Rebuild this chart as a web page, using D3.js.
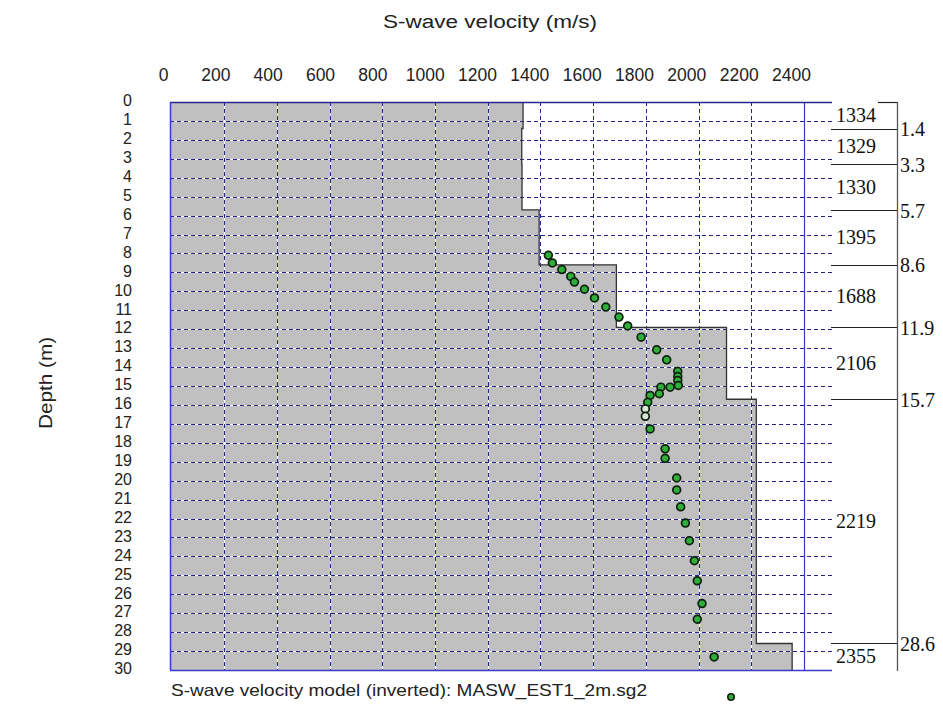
<!DOCTYPE html>
<html><head><meta charset="utf-8">
<script src="https://cdn.jsdelivr.net/npm/d3@7"></script>
<style>
html,body{margin:0;padding:0;background:#fff;}
svg{display:block;}
</style></head>
<body>
<svg id="chart" width="943" height="708"></svg>
<script>
// ---- data ----
const xTicks = [0,200,400,600,800,1000,1200,1400,1600,1800,2000,2200,2400];
const depthTicks = d3.range(0,31);
const layerTops = [0,1.4,3.3,5.7,8.6,11.9,15.7,28.6];
const layerBottoms = [1.4,3.3,5.7,8.6,11.9,15.7,28.6,30];
const layerVs = [1334,1329,1330,1395,1688,2106,2219,2355];
const boundaryLabels = ["1.4","3.3","5.7","8.6","11.9","15.7","28.6"];
const boundaryDepths = [1.4,3.3,5.7,8.6,11.9,15.7,28.6];
const pointVs = [1430,1445,1481,1515,1529,1567,1605,1648,1698,1731,1782,1841,1879,1921,1921,1921,1923,1892,1857,1851,1816,1807,1798,1798,1816,1873,1873,1917,1917,1932,1950,1965,1984,1995,2013,1995,2059];
const pointDepths = [8.10,8.50,8.85,9.21,9.51,9.89,10.35,10.83,11.36,11.83,12.42,13.09,13.62,14.23,14.50,14.71,14.97,15.06,15.06,15.41,15.50,15.86,16.21,16.60,17.27,18.32,18.82,19.86,20.49,21.38,22.24,23.17,24.23,25.29,26.49,27.32,29.31];
const openPoints = [22,23];
const title = "S-wave velocity (m/s)";
const yTitle = "Depth (m)";
const legendText = "S-wave velocity model (inverted): MASW_EST1_2m.sg2";

// ---- layout ----
const svg = d3.select("#chart");
const x = d3.scaleLinear().domain([0,2400]).range([171.5,804]);
const xLab = d3.scaleLinear().domain([0,2400]).range([163,791]);
const y = d3.scaleLinear().domain([0,30]).range([102,670]);
const plotL = 170, plotR = 832;
const gray = "#c0c0c0", navy = "#25258f", blue = "#3a3ac8";
const sans = "Arial, 'Liberation Sans', sans-serif";
const serif = "'Times New Roman', 'Liberation Serif', serif";

// gray step area as a single polygon
const layers = layerVs.map((v,i)=>({v, top:layerTops[i], bot:layerBottoms[i]}));
const stepPts = [];
layers.forEach(l=>{ stepPts.push([x(l.v), y(l.top)]); stepPts.push([x(l.v), y(l.bot)]); });
const polyPts = [[plotL, y(0)], ...stepPts, [plotL, y(30)]];
svg.append("path").attr("d", d3.line()(polyPts) + "Z").attr("fill", gray);

// gridlines (white base + navy dashes)
const gridG = svg.append("g");
const hDepths = depthTicks.filter(d=>d>0 && d<30);
[["#ffffff",null],[navy,"4,3"]].forEach(([c,dash])=>{
  gridG.append("g").selectAll("line").data(hDepths).join("line")
    .attr("x1", plotL).attr("x2", plotR)
    .attr("y1", d=>Math.round(y(d))+0.5).attr("y2", d=>Math.round(y(d))+0.5)
    .attr("stroke", c).attr("stroke-width",1).attr("stroke-dasharray", dash);
  gridG.append("g").selectAll("line").data(xTicks.filter(v=>v>0 && v<2400)).join("line")
    .attr("x1", d=>Math.round(x(d))+0.5).attr("x2", d=>Math.round(x(d))+0.5)
    .attr("y1", y(0)).attr("y2", y(30))
    .attr("stroke", c).attr("stroke-width",1).attr("stroke-dasharray", dash);
});
// solid 2400 line
svg.append("line").attr("x1", Math.round(x(2400))+0.5).attr("x2", Math.round(x(2400))+0.5)
  .attr("y1", y(0)).attr("y2", y(30)).attr("stroke", blue).attr("stroke-width",1.2);

// step outline
svg.append("path").attr("d", d3.line()(stepPts)).attr("fill","none")
  .attr("stroke","#333").attr("stroke-width",1.3);

// borders
svg.append("line").attr("x1",plotL).attr("x2",plotR).attr("y1",y(0)+0.5).attr("y2",y(0)+0.5).attr("stroke",navy).attr("stroke-width",1.3);
svg.append("line").attr("x1",plotL).attr("x2",plotR).attr("y1",y(30)+0.5).attr("y2",y(30)+0.5).attr("stroke",blue).attr("stroke-width",1.5);
svg.append("line").attr("x1",plotL+0.5).attr("x2",plotL+0.5).attr("y1",y(0)).attr("y2",y(30)).attr("stroke",blue).attr("stroke-width",1.5);

// top axis labels
const topAxis = d3.axisTop(xLab).tickValues(xTicks).tickSize(0).tickPadding(0).tickFormat(d3.format("d"));
const tg = svg.append("g").attr("transform","translate(0,81)").call(topAxis);
tg.select(".domain").remove();
tg.selectAll("text").attr("font-family",sans).attr("font-size",17.5).attr("fill","#222").attr("dy",0);

// left axis labels
const leftAxis = d3.axisLeft(y).tickValues(depthTicks).tickSize(0).tickPadding(0).tickFormat(d3.format("d"));
const lg = svg.append("g").attr("transform","translate(132,-2)").call(leftAxis);
lg.select(".domain").remove();
lg.selectAll("text").attr("font-family",sans).attr("font-size",16).attr("fill","#222").attr("dy","0.36em");

// titles
svg.append("text").attr("x",490).attr("y",28).attr("text-anchor","middle")
  .attr("font-family",sans).attr("font-size",18).attr("fill","#222")
  .attr("textLength",214).attr("lengthAdjust","spacingAndGlyphs").text(title);
svg.append("text").attr("transform","translate(52,383) rotate(-90)").attr("text-anchor","middle")
  .attr("font-family",sans).attr("font-size",18).attr("fill","#222")
  .attr("textLength",92).attr("lengthAdjust","spacingAndGlyphs").text(yTitle);

// right layer table
const tableL = 831, tableR = 897;
svg.append("line").attr("x1",tableR+0.5).attr("x2",tableR+0.5).attr("y1",y(0)).attr("y2",y(30)+1)
  .attr("stroke","#555").attr("stroke-width",1.3);
svg.append("g").selectAll("line").data(boundaryDepths).join("line")
  .attr("x1",tableL).attr("x2",tableR).attr("y1",d=>Math.round(y(d))+0.5).attr("y2",d=>Math.round(y(d))+0.5)
  .attr("stroke","#222").attr("stroke-width",1.2);
svg.append("line").attr("x1",878).attr("x2",tableR).attr("y1",y(0)+0.5).attr("y2",y(0)+0.5)
  .attr("stroke","#222").attr("stroke-width",1.2);
svg.append("g").selectAll("text").data(layers).join("text")
  .attr("x",836).attr("y",d=>y((d.top+d.bot)/2)).attr("dy","0.33em")
  .attr("font-family",serif).attr("font-size",20).attr("fill","#111").text(d=>d.v);
svg.append("g").selectAll("text").data(boundaryDepths).join("text")
  .attr("x",900).attr("y",d=>y(d)+1).attr("dy","0.33em")
  .attr("font-family",serif).attr("font-size",20).attr("fill","#111").text((d,i)=>boundaryLabels[i]);

// points
const pts = pointVs.map((v,i)=>({v, d:pointDepths[i], open: openPoints.includes(i)}));
svg.append("g").selectAll("circle").data(pts).join("circle")
  .attr("cx",d=>x(d.v)).attr("cy",d=>y(d.d)).attr("r",3.9)
  .attr("fill",d=>d.open?"#d8e8d8":"#2fae3a").attr("stroke","#0d1f0d").attr("stroke-width",1.7);

// legend
svg.append("text").attr("x",171).attr("y",696).attr("font-family",sans).attr("font-size",16.5)
  .attr("fill","#222").attr("textLength",476).attr("lengthAdjust","spacingAndGlyphs").text(legendText);
svg.append("circle").attr("cx",731).attr("cy",697).attr("r",3.2)
  .attr("fill","#2fae3a").attr("stroke","#0d1f0d").attr("stroke-width",1.6);
</script>
</body></html>
